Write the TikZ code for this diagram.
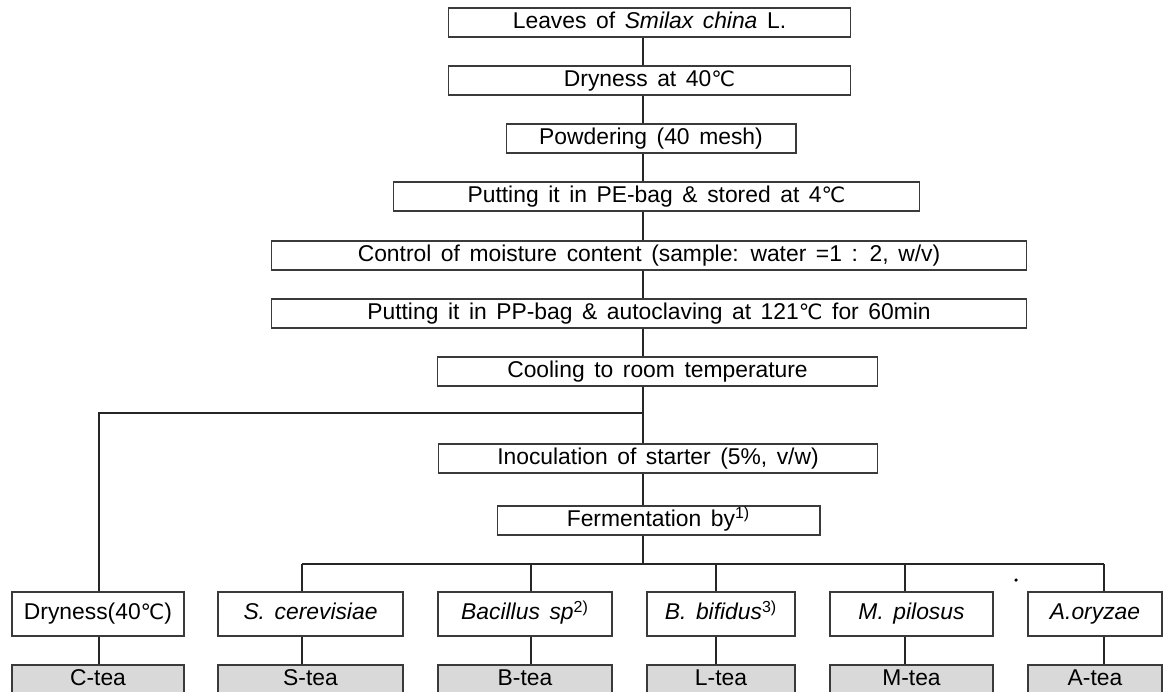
\documentclass[tikz,border=0pt]{standalone}
\usepackage{fontspec}
\setmainfont{Liberation Sans}
\newfontfamily\symfont{DejaVu Sans}
\usetikzlibrary{positioning}
\definecolor{boxline}{HTML}{3A3A3A}
\definecolor{teagray}{HTML}{D9D9D9}
\newcommand{\degc}{{\symfont\fontsize{12}{14}\selectfont ℃}}
\newcommand{\stagefont}{\fontsize{13}{15}\selectfont\spaceskip=0.42em\relax}

\begin{document}
\begin{tikzpicture}[x=0.02cm, y=-0.02cm,
    stage/.style={draw=boxline, line width=0.6pt, minimum height=0.58cm, inner sep=0pt,
      text height=9pt, text depth=2.5pt, font=\stagefont},
    microbe/.style={stage, minimum height=0.88cm},
    product/.style={stage, minimum height=0.6cm, fill=teagray},
    link/.style={draw=black!85, line width=0.6pt}]
  \useasboundingbox (0,0) rectangle (1167,691);
  \clip (0,0) rectangle (1167,691);
  \coordinate (spine) at (643,0);
  % main processing chain
  \node[stage, minimum width=8.06cm] (leaves) at (649.5,22.5) {Leaves of \textit{Smilax china} L.};
  \node[stage, minimum width=8.06cm] (dry) at (649.5,80.5) {Dryness at 40\degc};
  \node[stage, minimum width=5.8cm] (powder) at (651,138.5) {Powdering (40 mesh)};
  \node[stage, minimum width=10.54cm] (pebag) at (656.5,196.5) {Putting it in PE-bag \& stored at 4\degc};
  \node[stage, minimum width=15.12cm] (moist) at (649,255.5) {Control of moisture content (sample: water =1 : 2, w/v)};
  \node[stage, minimum width=15.12cm] (autoc) at (649,313.5) {Putting it in PP-bag \& autoclaving at 121\degc{} for 60min};
  \node[stage, minimum width=8.82cm] (cool) at (657.5,371.5) {Cooling to room temperature};
  \node[stage, minimum width=8.8cm] (inoc) at (658,458.5) {Inoculation of starter (5\%, v/w)};
  \node[stage, minimum width=6.46cm] (ferm) at (658.5,520.5) {Fermentation by\textsuperscript{1)}};
  \foreach \a/\b in {leaves/dry, dry/powder, powder/pebag, pebag/moist, moist/autoc, autoc/cool, cool/inoc, inoc/ferm}
    \draw[link] (\a.south -| spine) -- (\b.north -| spine);
  % starters and teas
  \foreach \nm/\cx/\bw/\lx/\lbl/\tea in {
      cdry/98/172/99/{Dryness(40\degc)}/C,
      scer/310.5/185/302/{\textit{S. cerevisiae}}/S,
      bac/525/174/531/{\textit{Bacillus sp}\textsuperscript{2)}}/B,
      bif/721/148/716/{\textit{B. bifidus}\textsuperscript{3)}}/L,
      pil/911.5/163/905/{\textit{M. pilosus}}/M,
      ory/1095/134/1104/{\textit{A.oryzae}}/A} {
    \node[microbe, minimum width=\bw*0.02cm] (\nm) at (\cx,614) {\lbl};
    \node[product, minimum width=\bw*0.02cm] (\nm-tea) at (\cx,680) {\tea-tea};
    \coordinate (\nm-x) at (\lx,564);
    \draw[link] (\nm.south -| \nm-x) -- (\nm-tea.north -| \nm-x);
  }
  % branches
  \coordinate (split) at (643,413);
  \draw[link] (split) -| (cdry.north -| cdry-x);
  \draw[link] (ferm.south -| spine) -- (spine |- scer-x);
  \draw[link] (scer-x) -- (ory-x);
  \foreach \nm in {scer, bac, bif, pil, ory}
    \draw[link] (\nm-x) -- (\nm.north -| \nm-x);
  \fill (1016,580) circle[radius=1pt];
\end{tikzpicture}
\end{document}
